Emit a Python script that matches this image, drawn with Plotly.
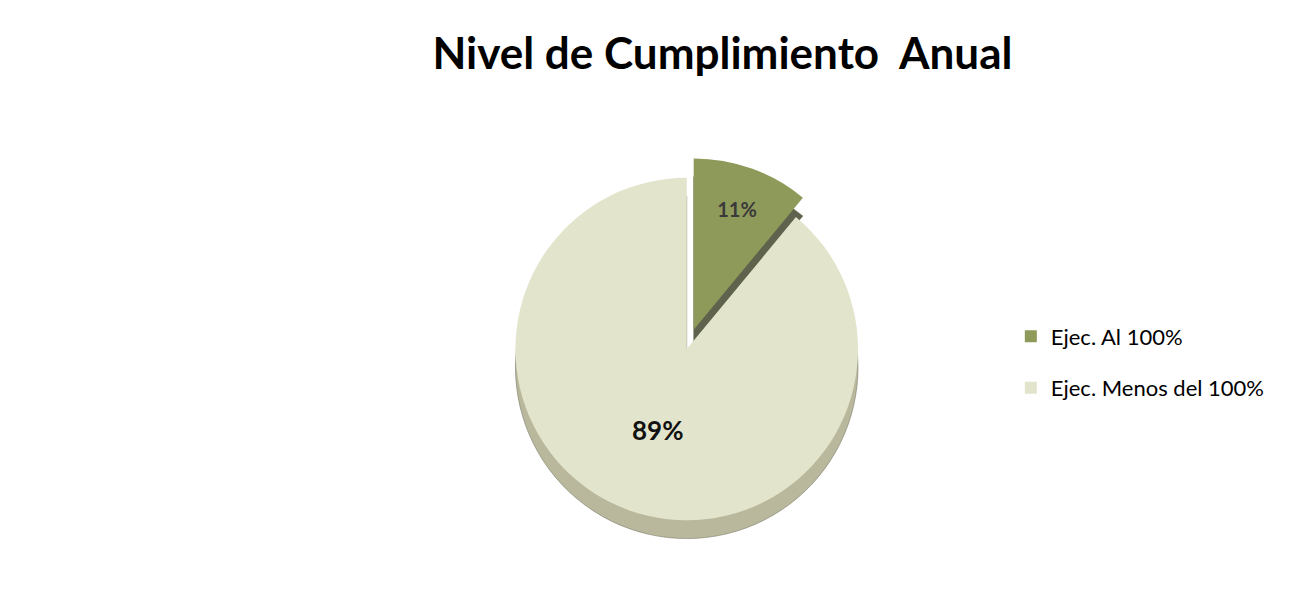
import plotly.graph_objects as go

etiquetas = ["Ejec. Al 100%", "Ejec. Menos del 100%"]
valores = [11, 89]
colores = ["#8e9a5a", "#e3e4cc"]
colores_lado = ["#5f624c", "#b9b89c"]

fig = go.Figure()

# "pared" del pastel: misma torta desplazada y más oscura
fig.add_trace(go.Pie(labels=etiquetas, values=valores, sort=False, direction="clockwise",
                     rotation=0, pull=[0.12, 0], textinfo="none", hoverinfo="skip",
                     marker=dict(colors=colores_lado, line=dict(color="#6a6a5a", width=0.5)),
                     domain=dict(x=[0.345, 0.70], y=[0.095, 0.725]), showlegend=False))

# cara superior
fig.add_trace(go.Pie(labels=etiquetas, values=valores, sort=False, direction="clockwise",
                     rotation=0, pull=[0.12, 0], textinfo="percent", textposition="inside",
                     insidetextorientation="horizontal",
                     texttemplate="<b>%{value}%</b>",
                     textfont=dict(family="Lato, Open Sans, sans-serif", size=[20, 26],
                                   color=["#3a3a3a", "#111111"]),
                     marker=dict(colors=colores, line=dict(color="#ffffff", width=0)),
                     domain=dict(x=[0.345, 0.70], y=[0.125, 0.755]), showlegend=False))

# leyenda
for i, (lab, col) in enumerate(zip(etiquetas, colores)):
    fig.add_trace(go.Scatter(x=[None], y=[None], mode="markers", name=lab, legendgroup=f"g{i}",
                             marker=dict(symbol="square", size=13, color=col)))

fig.update_xaxes(visible=False)
fig.update_yaxes(visible=False)

fig.update_layout(
    width=1299, height=609,
    margin=dict(l=0, r=0, t=0, b=0),
    paper_bgcolor="white", plot_bgcolor="white",
    title=dict(text="<b>Nivel de Cumplimiento  Anual</b>", x=0.55, xanchor="center", y=0.925,
               yanchor="middle", font=dict(family="Lato, Open Sans, sans-serif", size=44, color="#000000")),
    legend=dict(x=0.772, y=0.418, xanchor="left", yanchor="middle", tracegroupgap=20,
                font=dict(family="Lato, Open Sans, sans-serif", size=22, color="#000000"),
                itemsizing="constant"),
    font=dict(family="Lato, Open Sans, sans-serif"),
)

fig.write_html("out.html")
